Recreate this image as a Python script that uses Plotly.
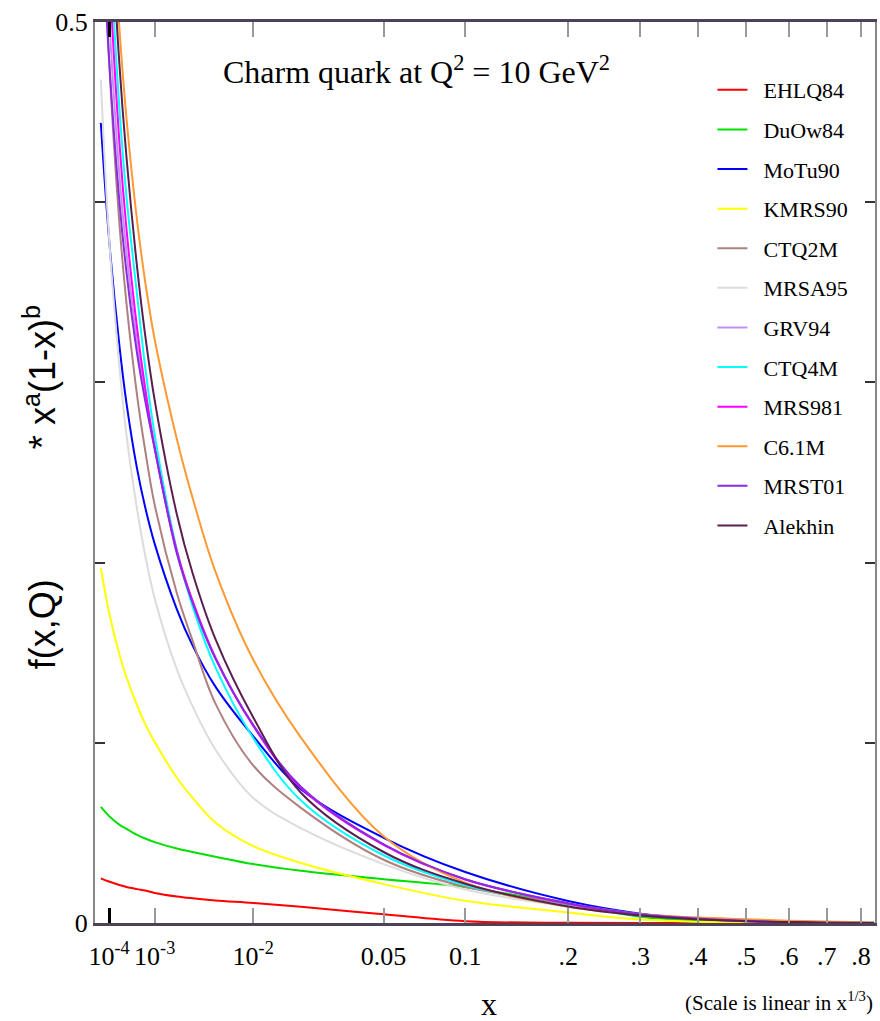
import plotly.graph_objects as go

# ---- data ----
x_vals = [5e-5, 1e-4, 2e-4, 3e-4, 5e-4, 7e-4, 1e-3, 2e-3, 3e-3, 5e-3, 0.01, 0.02,
          0.05, 0.1, 0.2, 0.3, 0.4, 0.5, 0.6, 0.7, 0.84]

EHLQ84 = [0.0248, 0.0230, 0.0211, 0.0200, 0.0188, 0.0180, 0.0167, 0.0147, 0.0137, 0.0125, 0.0111, 0.0090,
          0.0048, 0.0010, 0.0001, 0, 0, 0, 0, 0, 0]
DuOw84 = [0.0644, 0.0594, 0.0546, 0.0522, 0.0489, 0.0469, 0.0449, 0.0413, 0.0394, 0.0368, 0.0327, 0.0290,
          0.0243, 0.0199, 0.0104, 0.0035, 0.0014, 0.0006, 0.0002, 0.0001, 0]
MoTu90 = [0.444, 0.380, 0.321, 0.2884, 0.252, 0.2308, 0.2104, 0.1741, 0.1542, 0.1313, 0.1037, 0.0742,
          0.0473, 0.0283, 0.0122, 0.0052, 0.0024, 0.0011, 0.0005, 0.0002, 0.0001]
KMRS90 = [0.197, 0.1726, 0.1493, 0.1364, 0.1207, 0.1105, 0.1004, 0.0806, 0.0696, 0.0558, 0.0427, 0.0333,
          0.0216, 0.0123, 0.0058, 0.0019, 0.0007, 0.0002, 0.0001, 0, 0]
CTQ2M = [0.590, 0.480, 0.389, 0.3437, 0.2927, 0.2625, 0.232, 0.183, 0.157, 0.122, 0.0875, 0.0639,
         0.0351, 0.0201, 0.0107, 0.0050, 0.0029, 0.0017, 0.0009, 0.0004, 0.0001]
MRSA95 = [0.468, 0.3808, 0.3094, 0.2707, 0.2295, 0.2042, 0.1801, 0.1407, 0.1205, 0.0964, 0.0694, 0.0526,
          0.0327, 0.0186, 0.0091, 0.0044, 0.0025, 0.0014, 0.0008, 0.0004, 0.0001]
GRV94 = [0.610, 0.505, 0.416, 0.372, 0.322, 0.293, 0.2635, 0.206, 0.1785, 0.147, 0.1098, 0.0753,
         0.0435, 0.0242, 0.0109, 0.0045, 0.0023, 0.0011, 0.0005, 0.0002, 0]
CTQ4M = [0.672, 0.554, 0.453, 0.4028, 0.3484, 0.3087, 0.2709, 0.207, 0.176, 0.1421, 0.1027, 0.068,
         0.0376, 0.0211, 0.0093, 0.0045, 0.0026, 0.0015, 0.0008, 0.0004, 0.0001]
MRS981 = [0.655, 0.533, 0.434, 0.385, 0.330, 0.297, 0.264, 0.2065, 0.179, 0.1475, 0.1095, 0.075,
          0.0433, 0.0241, 0.0107, 0.0044, 0.0022, 0.0010, 0.0005, 0.0002, 0]
C61M = [0.713, 0.597, 0.4974, 0.4464, 0.3896, 0.3561, 0.3238, 0.2685, 0.2363, 0.1953, 0.1462, 0.1029,
        0.0481, 0.0224, 0.0090, 0.0047, 0.0030, 0.0021, 0.0013, 0.0008, 0.0003]
MRST01 = [0.572, 0.480, 0.401, 0.361, 0.316, 0.290, 0.263, 0.205, 0.178, 0.147, 0.110, 0.0756,
          0.0437, 0.0243, 0.0110, 0.0048, 0.0025, 0.0012, 0.0005, 0.0002, 0]
Alekhin = [0.712, 0.581, 0.4775, 0.4248, 0.3639, 0.3264, 0.290, 0.2267, 0.1945, 0.1578, 0.1142, 0.0723,
           0.0394, 0.0218, 0.0092, 0.0042, 0.0021, 0.0010, 0.0005, 0.0002, 0]

series_names = ["EHLQ84", "DuOw84", "MoTu90", "KMRS90", "CTQ2M", "MRSA95",
                "GRV94", "CTQ4M", "MRS981", "C6.1M", "MRST01", "Alekhin"]
series_values = [EHLQ84, DuOw84, MoTu90, KMRS90, CTQ2M, MRSA95,
                 GRV94, CTQ4M, MRS981, C61M, MRST01, Alekhin]
series_colors = ["#ff0000", "#00e000", "#0000ff", "#ffff00", "#b08080", "#dcdcdc",
                 "#c090f0", "#00ffff", "#ff00ff", "#ff9933", "#8a2be2", "#5a1e50"]

tick_x = [1e-4, 1e-3, 1e-2, 0.05, 0.1, 0.2, 0.3, 0.4, 0.5, 0.6, 0.7, 0.8]
tick_text = ["10<sup>-4</sup>", "10<sup>-3</sup>", "10<sup>-2</sup>", "0.05", "0.1",
             ".2", ".3", ".4", ".5", ".6", ".7", ".8"]
y_label_ticks = [0, 0.5]
y_label_text = ["0", "0.5"]
y_minor_ticks = [0.1, 0.2, 0.3, 0.4]


def cbrt(v):
    return v ** (1.0 / 3.0)


u_vals = [cbrt(v) for v in x_vals]
u_ticks = [cbrt(v) for v in tick_x]
x_range = [0.0300, 0.9446]

SERIF = "Liberation Serif, Times New Roman, serif"
SANS = "Liberation Sans, Arial, sans-serif"

fig = go.Figure()
for name, vals, col in zip(series_names, series_values, series_colors):
    fig.add_trace(go.Scatter(
        x=u_vals, y=vals, mode="lines", name="\u00a0\u00a0" + name,
        legendgroup=name,
        line=dict(color=col, width=2, shape="spline", smoothing=1.0),
        hoverinfo="skip",
    ))

# overlay axes: the single black 10^-4 tick and the unlabeled y ticks
fig.add_trace(go.Scatter(x=[u_ticks[0]], y=[None], xaxis="x2", yaxis="y2",
                         showlegend=False, mode="lines", hoverinfo="skip"))

fig.update_layout(
    width=880, height=1021,
    margin=dict(l=95, r=3, t=22, b=98),
    paper_bgcolor="white", plot_bgcolor="white",
    font=dict(family=SERIF, color="black"),
    xaxis=dict(
        range=x_range, tickmode="array", tickvals=u_ticks, ticktext=tick_text,
        ticks="inside", ticklen=15, tickwidth=2, tickcolor="#999999",
        showline=True, linecolor="#4d4258", linewidth=3, mirror="ticks",
        showgrid=False, zeroline=False,
        tickfont=dict(family=SERIF, size=26, color="black"),
        ticklabelstandoff=8,
    ),
    xaxis2=dict(
        range=x_range, overlaying="x", anchor="y2", side="bottom",
        tickmode="array", tickvals=[u_ticks[0]], showticklabels=False,
        ticks="inside", ticklen=15, tickwidth=2.5, tickcolor="black",
        showline=False, mirror="ticks", showgrid=False, zeroline=False,
    ),
    yaxis=dict(
        range=[0, 0.5], tickmode="array", tickvals=y_label_ticks, ticktext=y_label_text,
        ticks="", showline=True, linecolor="#888888", linewidth=2, mirror=True,
        showgrid=False, zeroline=False,
        tickfont=dict(family=SERIF, size=26, color="black"),
    ),
    yaxis2=dict(
        range=[0, 0.5], overlaying="y", anchor="x2", side="left",
        tickmode="array", tickvals=y_minor_ticks, showticklabels=False,
        ticks="inside", ticklen=10, tickwidth=2, tickcolor="#333333",
        showline=False, mirror="ticks", showgrid=False, zeroline=False,
    ),
    legend=dict(
        x=0.7916, y=0.9478, xanchor="left", yanchor="top",
        font=dict(family=SERIF, size=22, color="black"),
        bgcolor="rgba(0,0,0,0)", borderwidth=0,
        traceorder="grouped", tracegroupgap=8,
    ),
    showlegend=True,
)

fig.add_annotation(
    text="Charm quark at Q<sup>2</sup> = 10 GeV<sup>2</sup>",
    xref="paper", yref="paper", x=0.4118, y=0.9467, xanchor="center", yanchor="middle",
    showarrow=False, font=dict(family=SERIF, size=32, color="black"),
)
fig.add_annotation(
    text="f(x,Q)" + "\u00a0" * 13 + "* x<sup>a</sup>(1-x)<sup>b</sup>",
    xref="paper", yref="paper", x=(40 - 95) / 782, y=(923 - 487) / 901,
    xanchor="center", yanchor="middle", textangle=-90, showarrow=False,
    font=dict(family=SANS, size=36, color="black"),
)
fig.add_annotation(
    text="x", xref="paper", yref="paper", x=(490 - 95) / 782, y=(923 - 1004) / 901,
    xanchor="center", yanchor="middle", showarrow=False,
    font=dict(family=SERIF, size=32, color="black"),
)
fig.add_annotation(
    text="(Scale is linear in x<sup>1/3</sup>)", xref="paper", yref="paper",
    x=1.0, y=(923 - 1002) / 901, xanchor="right", yanchor="middle", showarrow=False,
    font=dict(family=SERIF, size=21, color="black"),
)

fig.write_html("out.html", config={"displayModeBar": False},
               post_script="document.body.style.margin='0';")
